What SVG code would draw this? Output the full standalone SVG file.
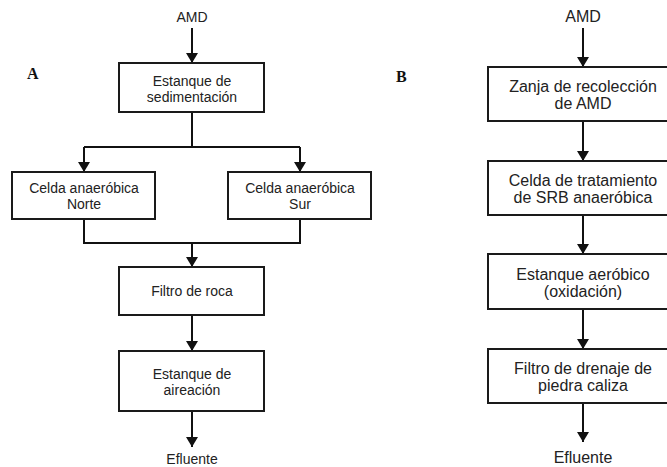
<svg xmlns="http://www.w3.org/2000/svg" width="667" height="467" viewBox="0 0 667 467">
<defs>
<marker id="ah" viewBox="0 0 10 12" refX="10" refY="6" markerWidth="10" markerHeight="12" markerUnits="userSpaceOnUse" orient="auto">
<path d="M0,0 L10,6 L0,12 Z" fill="#111"/>
</marker>
<style>
.box{fill:#fff;stroke:#1a1a1a;stroke-width:2}
.t{font-family:"Liberation Sans",Arial,sans-serif;font-size:14px;fill:#222;text-anchor:middle}
.t2{font-family:"Liberation Sans",Arial,sans-serif;font-size:16px;fill:#222;text-anchor:middle}
.lbl{font-family:"Liberation Serif","Times New Roman",serif;font-size:16px;font-weight:bold;fill:#111}
.c{fill:none;stroke:#111;stroke-width:2}
.a{fill:none;stroke:#111;stroke-width:2;marker-end:url(#ah)}
</style>
</defs>
<rect width="667" height="467" fill="#fff"/>
<text class="lbl" x="27" y="79">A</text>
<text class="lbl" x="396" y="82">B</text>
<g id="connectors">
<path class="a" d="M192,28 V63"/>
<path class="c" d="M192,112 V147 M84,147 H300"/>
<path class="a" d="M84,147 V172"/>
<path class="a" d="M300,147 V172"/>
<path class="c" d="M84,219 V243 H300 V219"/>
<path class="a" d="M192,243 V267"/>
<path class="a" d="M192,315 V351"/>
<path class="a" d="M192,411 V447"/>
<path class="a" d="M583,28 V67"/>
<path class="a" d="M583,121 V161"/>
<path class="a" d="M583,215 V254"/>
<path class="a" d="M583,309 V349"/>
<path class="a" d="M583,403 V442"/>
</g>
<g id="amd-a"><text class="t" x="192" y="22">AMD</text></g>
<g id="sedimentacion"><rect class="box" x="119" y="63" width="145" height="49"/><text class="t" x="192" y="86">Estanque de</text><text class="t" x="192" y="102">sedimentación</text></g>
<g id="norte"><rect class="box" x="12" y="172" width="143" height="47"/><text class="t" x="84" y="193">Celda anaeróbica</text><text class="t" x="84" y="209">Norte</text></g>
<g id="sur"><rect class="box" x="228" y="172" width="143" height="47"/><text class="t" x="300" y="193">Celda anaeróbica</text><text class="t" x="300" y="209">Sur</text></g>
<g id="filtro-roca"><rect class="box" x="119" y="267" width="145" height="48"/><text class="t" x="192" y="296">Filtro de roca</text></g>
<g id="aireacion"><rect class="box" x="119" y="351" width="145" height="60"/><text class="t" x="192" y="379">Estanque de</text><text class="t" x="192" y="395">aireación</text></g>
<g id="efluente-a"><text class="t" x="192" y="464">Efluente</text></g>
<g id="amd-b"><text class="t2" x="583" y="22">AMD</text></g>
<g id="zanja"><rect class="box" x="488" y="67" width="190" height="54"/><text class="t2" x="583" y="92">Zanja de recolección</text><text class="t2" x="583" y="109">de AMD</text></g>
<g id="srb"><rect class="box" x="488" y="161" width="190" height="54"/><text class="t2" x="583" y="186">Celda de tratamiento</text><text class="t2" x="583" y="203">de SRB anaeróbica</text></g>
<g id="aerobico"><rect class="box" x="488" y="254" width="190" height="55"/><text class="t2" x="583" y="280">Estanque aeróbico</text><text class="t2" x="583" y="297">(oxidación)</text></g>
<g id="caliza"><rect class="box" x="488" y="349" width="190" height="54"/><text class="t2" x="583" y="374">Filtro de drenaje de</text><text class="t2" x="583" y="391">piedra caliza</text></g>
<g id="efluente-b"><text class="t2" x="583" y="463">Efluente</text></g>
</svg>
